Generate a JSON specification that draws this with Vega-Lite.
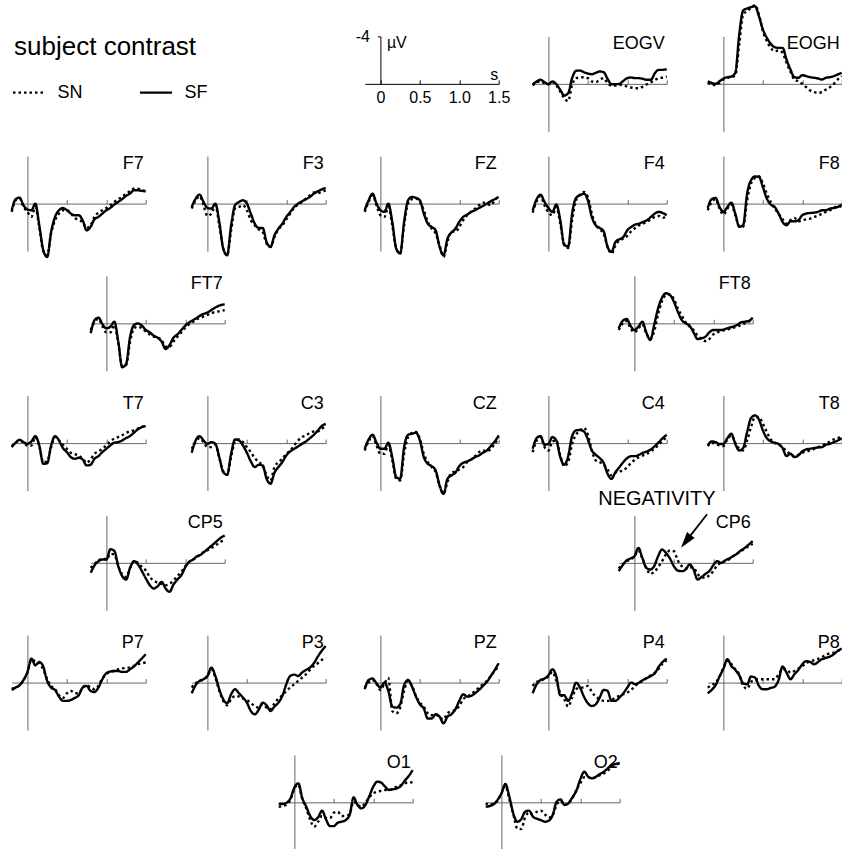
{
"$schema":"https://vega.github.io/schema/vega-lite/v6.json",
"padding":{"left":9.7,"top":3.35,"right":0,"bottom":0},
"background":"white",
"data":{"values":[
{"t":-0.2,"s":"SF","EOGV":0.03,"EOGH":-0.22,"F7":0.56,"F3":0.28,"FZ":0.56,"F4":0.56,"F8":0.37,"FT7":0.84,"FT8":0.42,"T7":0.34,"C3":0.81,"CZ":0.48,"C4":0.48,"T8":0.2,"CP5":0.84,"CP6":0.7,"P7":0.62,"P3":0.9,"PZ":0.56,"P4":0.9,"P8":0.9,"O1":0.14,"O2":0.37},
{"t":-0.15,"s":"SF","EOGV":-0.2,"EOGH":-0.08,"F7":-0.37,"F3":-0.42,"FZ":-0.28,"F4":-0.37,"F8":-0.37,"FT7":-0.28,"FT8":-0.2,"T7":-0.03,"C3":-0.22,"CZ":-0.31,"C4":-0.42,"T8":-0.14,"CP5":0.2,"CP6":0.2,"P7":0.42,"P3":0.22,"PZ":-0.22,"P4":0.14,"P8":0.62,"O1":0.14,"O2":0.31},
{"t":-0.1,"s":"SF","EOGV":-0.34,"EOGH":0,"F7":-0.5,"F3":-0.76,"FZ":-0.84,"F4":-0.76,"F8":-0.48,"FT7":-0.48,"FT8":-0.37,"T7":-0.28,"C3":-0.59,"CZ":-0.7,"C4":-0.59,"T8":-0.08,"CP5":-0.14,"CP6":-0.2,"P7":0.22,"P3":-0.14,"PZ":-0.34,"P4":-0.22,"P8":0.22,"O1":0.03,"O2":0.17},
{"t":-0.05,"s":"SF","EOGV":-0.14,"EOGH":-0.22,"F7":0.14,"F3":-0.14,"FZ":0,"F4":-0.14,"F8":0.28,"FT7":0.08,"FT8":0.2,"T7":-0.08,"C3":-0.22,"CZ":-0.03,"C4":0.14,"T8":0.08,"CP5":-0.28,"CP6":-0.37,"P7":-0.22,"P3":-0.28,"PZ":0.06,"P4":-0.34,"P8":-0.51,"O1":-0.34,"O2":-0.2},
{"t":0,"s":"SF","EOGV":0.03,"EOGH":-0.45,"F7":0.5,"F3":0.37,"FZ":0.56,"F4":0.37,"F8":0.7,"FT7":0.42,"FT8":0.56,"T7":0.06,"C3":0.06,"CZ":0.48,"C4":0.06,"T8":0.06,"CP5":-0.28,"CP6":-0.56,"P7":-0.9,"P3":-0.56,"PZ":0.42,"P4":-0.62,"P8":-1.18,"O1":-1.26,"O2":-0.76},
{"t":0.05,"s":"SF","EOGV":-0.2,"EOGH":-0.56,"F7":0.56,"F3":0.42,"FZ":0.7,"F4":0.7,"F8":0.28,"FT7":0.28,"FT8":0.28,"T7":-0.14,"C3":-0.08,"CZ":0.48,"C4":-0.51,"T8":-0.42,"CP5":-1.15,"CP6":-1.26,"P7":-2.02,"P3":-1.26,"PZ":0,"P4":-1.12,"P8":-1.97,"O1":-1.6,"O2":-1.54},
{"t":0.1,"s":"SF","EOGV":0.03,"EOGH":-0.62,"F7":0,"F3":0,"FZ":0,"F4":0.08,"F8":-0.08,"FT7":-0.14,"FT8":-0.14,"T7":-0.59,"C3":0.06,"CZ":-0.03,"C4":-0.22,"T8":-0.79,"CP5":-1.0,"CP6":-0.42,"P7":-1.46,"P3":-0.56,"PZ":0.7,"P4":-0.51,"P8":-1.4,"O1":-0.34,"O2":-0.48},
{"t":0.15,"s":"SF","EOGV":0.51,"EOGH":-0.93,"F7":1.83,"F3":1.54,"FZ":1.54,"F4":1.4,"F8":0.84,"FT7":1.54,"FT8":0.76,"T7":0.2,"C3":1.18,"CZ":1.18,"C4":1.18,"T8":0.06,"CP5":0.28,"CP6":0.42,"P7":-1.74,"P3":0.56,"PZ":2.02,"P4":1.07,"P8":-1.07,"O1":0.37,"O2":0.93},
{"t":0.2,"s":"SF","EOGV":0.98,"EOGH":-4.16,"F7":3.9,"F3":3.79,"FZ":3.79,"F4":3.5,"F8":1.95,"FT7":3.7,"FT8":1.4,"T7":1.75,"C3":2.44,"CZ":2.87,"C4":1.83,"T8":0.62,"CP5":1.12,"CP6":0.56,"P7":-1.35,"P3":1.4,"PZ":2.11,"P4":1.07,"P8":-0.62,"O1":1.15,"O2":1.63},
{"t":0.25,"s":"SF","EOGV":0.79,"EOGH":-6.18,"F7":4.5,"F3":4.35,"FZ":4.2,"F4":3.6,"F8":1.8,"FT7":3.4,"FT8":0.14,"T7":1.7,"C3":2.67,"CZ":3.01,"C4":1.1,"T8":0.42,"CP5":1.4,"CP6":0.28,"P7":-0.14,"P3":1.74,"PZ":1.83,"P4":1.54,"P8":0.06,"O1":1.49,"O2":1.43},
{"t":0.3,"s":"SF","EOGV":-0.48,"EOGH":-6.35,"F7":2.39,"F3":1.83,"FZ":1.54,"F4":0.84,"F8":-0.84,"FT7":1.12,"FT8":-1.26,"T7":0.2,"C3":0.9,"CZ":0.34,"C4":-0.59,"T8":-0.93,"CP5":0.42,"CP6":-0.56,"P7":0.42,"P3":0.98,"PZ":0.22,"P4":0.9,"P8":0.14,"O1":1.26,"O2":0.79},
{"t":0.35,"s":"SF","EOGV":-1.1,"EOGH":-6.46,"F7":1.12,"F3":0.14,"FZ":-0.28,"F4":-0.48,"F8":-1.97,"FT7":0.14,"FT8":-2.16,"T7":-0.59,"C3":-0.31,"CZ":-0.7,"C4":-1.07,"T8":-2.11,"CP5":-0.14,"CP6":-1.12,"P7":0.62,"P3":0.56,"PZ":-0.22,"P4":0,"P8":-0.51,"O1":0.7,"O2":0.7},
{"t":0.4,"s":"SF","EOGV":-1.12,"EOGH":-6.54,"F7":0.56,"F3":-0.14,"FZ":-0.56,"F4":-0.7,"F8":-2.28,"FT7":0,"FT8":-2.53,"T7":-0.22,"C3":-0.22,"CZ":-0.79,"C4":-1.1,"T8":-2.33,"CP5":0.14,"CP6":-0.84,"P7":1.18,"P3":0.9,"PZ":0.34,"P4":0.42,"P8":-0.42,"O1":1.43,"O2":1.21},
{"t":0.45,"s":"SF","EOGV":-0.98,"EOGH":-5.7,"F7":0.37,"F3":-0.28,"FZ":-0.48,"F4":-0.84,"F8":-2.25,"FT7":0.2,"FT8":-2.39,"T7":0.42,"C3":0.2,"CZ":-0.87,"C4":-0.98,"T8":-1.99,"CP5":0.7,"CP6":-0.37,"P7":1.54,"P3":1.26,"PZ":1.18,"P4":1.18,"P8":0.28,"O1":2.0,"O2":1.38},
{"t":0.5,"s":"SF","EOGV":-0.87,"EOGH":-4.58,"F7":0.56,"F3":0,"FZ":-0.28,"F4":-0.28,"F8":-1.4,"FT7":0.56,"FT8":-1.83,"T7":0.76,"C3":0.81,"CZ":-0.22,"C4":-0.31,"T8":-1.07,"CP5":1.32,"CP6":0.28,"P7":1.54,"P3":1.69,"PZ":1.83,"P4":1.74,"P8":0.56,"O1":2.0,"O2":1.49},
{"t":0.55,"s":"SF","EOGV":-0.81,"EOGH":-3.88,"F7":0.84,"F3":0.84,"FZ":0.84,"F4":1.12,"F8":-0.42,"FT7":0.76,"FT8":-0.98,"T7":1.18,"C3":1.54,"CZ":1.18,"C4":0.62,"T8":-0.42,"CP5":1.88,"CP6":0.65,"P7":1.46,"P3":2.39,"PZ":2.19,"P4":1.97,"P8":0.56,"O1":1.71,"O2":1.63},
{"t":0.6,"s":"SF","EOGV":-0.93,"EOGH":-3.37,"F7":0.98,"F3":1.69,"FZ":1.69,"F4":1.83,"F8":0.08,"FT7":1.04,"FT8":-0.28,"T7":1.32,"C3":2.02,"CZ":1.74,"C4":0.98,"T8":-0.14,"CP5":2.16,"CP6":0.7,"P7":1.29,"P3":2.67,"PZ":3.03,"P4":1.83,"P8":0.45,"O1":1.63,"O2":1.54},
{"t":0.65,"s":"SF","EOGV":-1.04,"EOGH":-3.09,"F7":0.98,"F3":2.05,"FZ":1.97,"F4":2.05,"F8":0.28,"FT7":1.21,"FT8":0,"T7":1.24,"C3":1.83,"CZ":1.94,"C4":1.26,"T8":-0.03,"CP5":1.97,"CP6":0.56,"P7":1.07,"P3":2.3,"PZ":3.03,"P4":1.26,"P8":0.34,"O1":1.49,"O2":1.07},
{"t":0.7,"s":"SF","EOGV":-0.98,"EOGH":-3.03,"F7":1.4,"F3":2.05,"FZ":2.25,"F4":2.33,"F8":0.84,"FT7":1.54,"FT8":0.2,"T7":1.38,"C3":1.88,"CZ":2.3,"C4":1.66,"T8":0.08,"CP5":1.6,"CP6":0.14,"P7":0.42,"P3":1.69,"PZ":2.67,"P4":0.62,"P8":-0.22,"O1":1.07,"O2":-0.06},
{"t":0.75,"s":"SF","EOGV":-0.42,"EOGH":-3.03,"F7":2.25,"F3":3.23,"FZ":3.65,"F4":3.65,"F8":1.54,"FT7":2.16,"FT8":0.76,"T7":1.88,"C3":3.01,"CZ":3.57,"C4":2.59,"T8":0.42,"CP5":2.16,"CP6":0.56,"P7":0.28,"P3":1.91,"PZ":2.87,"P4":0.7,"P8":-1.35,"O1":-0.42,"O2":-0.25},
{"t":0.8,"s":"SF","EOGV":0.03,"EOGH":-2.05,"F7":1.97,"F3":3.65,"FZ":4.35,"F4":4.07,"F8":1.83,"FT7":1.83,"FT8":1.32,"T7":1.83,"C3":3.43,"CZ":4.27,"C4":3.01,"T8":1.1,"CP5":2.44,"CP6":1.4,"P7":0.7,"P3":2.39,"PZ":3.43,"P4":1.54,"P8":-0.84,"O1":0.22,"O2":0.22},
{"t":0.85,"s":"SF","EOGV":0.03,"EOGH":-1.21,"F7":1.32,"F3":2.67,"FZ":2.95,"F4":3.23,"F8":1.49,"FT7":1.21,"FT8":1.26,"T7":1.32,"C3":2.5,"CZ":3.01,"C4":2.44,"T8":0.9,"CP5":1.83,"CP6":1.2,"P7":0.79,"P3":2.02,"PZ":2.87,"P4":1.54,"P8":-0.28,"O1":0.51,"O2":0.08},
{"t":0.9,"s":"SF","EOGV":0,"EOGH":-0.56,"F7":1.12,"F3":2.11,"FZ":2.44,"F4":3.0,"F8":1.49,"FT7":0.93,"FT8":1.12,"T7":1.1,"C3":2.02,"CZ":2.72,"C4":2.02,"T8":1.18,"CP5":1.4,"CP6":0.93,"P7":0.42,"P3":1.69,"PZ":2.67,"P4":1.26,"P8":-0.7,"O1":0.22,"O2":-0.42},
{"t":0.95,"s":"SF","EOGV":-0.25,"EOGH":-0.51,"F7":0.84,"F3":1.69,"FZ":2.11,"F4":2.81,"F8":1.4,"FT7":0.56,"FT8":0.76,"T7":0.76,"C3":1.6,"CZ":2.5,"C4":1.6,"T8":1.04,"CP5":1.04,"CP6":0.7,"P7":-0.28,"P3":1.12,"PZ":2.25,"P4":0.9,"P8":-1.07,"O1":-0.53,"O2":-0.98},
{"t":1.0,"s":"SF","EOGV":-0.48,"EOGH":-0.73,"F7":0.56,"F3":1.12,"FZ":1.54,"F4":2.25,"F8":0.98,"FT7":0.2,"FT8":0.56,"T7":0.48,"C3":1.04,"CZ":1.94,"C4":1.26,"T8":0.7,"CP5":0.37,"CP6":0.2,"P7":-0.79,"P3":0.14,"PZ":1.54,"P4":0.42,"P8":-1.54,"O1":-1.32,"O2":-1.94},
{"t":1.05,"s":"SF","EOGV":-0.53,"EOGH":-0.65,"F7":0.37,"F3":0.7,"FZ":1.12,"F4":1.97,"F8":0.84,"FT7":-0.08,"FT8":0.56,"T7":0.2,"C3":0.7,"CZ":1.66,"C4":1.1,"T8":0.53,"CP5":-0.08,"CP6":-0.14,"P7":-0.93,"P3":-0.56,"PZ":0.98,"P4":0,"P8":-1.8,"O1":-1.74,"O2":-2.58},
{"t":1.1,"s":"SF","EOGV":-0.48,"EOGH":-0.56,"F7":0.08,"F3":0.28,"FZ":0.93,"F4":1.77,"F8":0.79,"FT7":-0.28,"FT8":0.56,"T7":-0.03,"C3":0.48,"CZ":1.54,"C4":1.1,"T8":0.48,"CP5":-0.28,"CP6":0,"P7":-0.98,"P3":-0.67,"PZ":1.18,"P4":0.14,"P8":-1.74,"O1":-1.66,"O2":-2.16},
{"t":1.15,"s":"SF","EOGV":-0.48,"EOGH":-0.51,"F7":-0.14,"F3":0,"FZ":0.7,"F4":1.69,"F8":0.76,"FT7":-0.48,"FT8":0.48,"T7":-0.08,"C3":0.28,"CZ":1.38,"C4":0.98,"T8":0.42,"CP5":-0.56,"CP6":-0.2,"P7":-0.98,"P3":-0.56,"PZ":1.12,"P4":0,"P8":-1.54,"O1":-1.32,"O2":-2.02},
{"t":1.2,"s":"SF","EOGV":-0.42,"EOGH":-0.45,"F7":-0.37,"F3":-0.2,"FZ":0.56,"F4":1.54,"F8":0.7,"FT7":-0.7,"FT8":0.37,"T7":-0.22,"C3":0.06,"CZ":1.18,"C4":0.81,"T8":0.37,"CP5":-0.7,"CP6":-0.37,"P7":-0.9,"P3":-0.84,"PZ":0.9,"P4":-0.22,"P8":-1.74,"O1":-1.04,"O2":-2.16},
{"t":1.25,"s":"SF","EOGV":-0.34,"EOGH":-0.37,"F7":-0.65,"F3":-0.37,"FZ":0.37,"F4":1.4,"F8":0.56,"FT7":-0.84,"FT8":0.28,"T7":-0.42,"C3":-0.14,"CZ":1.04,"C4":0.7,"T8":0.34,"CP5":-0.98,"CP6":-0.56,"P7":-0.9,"P3":-1.07,"PZ":0.62,"P4":-0.39,"P8":-1.97,"O1":-1.1,"O2":-2.39},
{"t":1.3,"s":"SF","EOGV":-0.34,"EOGH":-0.51,"F7":-0.84,"F3":-0.56,"FZ":0.2,"F4":1.12,"F8":0.56,"FT7":-0.98,"FT8":0.14,"T7":-0.59,"C3":-0.42,"CZ":0.81,"C4":0.53,"T8":0.14,"CP5":-1.26,"CP6":-0.76,"P7":-1.12,"P3":-1.26,"PZ":0.28,"P4":-0.56,"P8":-2.08,"O1":-1.18,"O2":-2.58},
{"t":1.35,"s":"SF","EOGV":-0.9,"EOGH":-0.56,"F7":-1.12,"F3":-0.84,"FZ":0,"F4":0.84,"F8":0.42,"FT7":-1.21,"FT8":-0.08,"T7":-0.87,"C3":-0.7,"CZ":0.62,"C4":0.25,"T8":0.06,"CP5":-1.54,"CP6":-1.04,"P7":-1.35,"P3":-1.63,"PZ":-0.06,"P4":-0.79,"P8":-2.19,"O1":-1.38,"O2":-2.87},
{"t":1.4,"s":"SF","EOGV":-1.18,"EOGH":-0.65,"F7":-1.12,"F3":-1.04,"FZ":-0.2,"F4":0.7,"F8":0.37,"FT7":-1.4,"FT8":-0.14,"T7":-1.15,"C3":-1.07,"CZ":0.25,"C4":-0.08,"T8":-0.08,"CP5":-1.83,"CP6":-1.26,"P7":-1.69,"P3":-2.19,"PZ":-0.56,"P4":-1.35,"P8":-2.39,"O1":-1.83,"O2":-3.15},
{"t":1.45,"s":"SF","EOGV":-1.18,"EOGH":-0.79,"F7":-1.07,"F3":-1.2,"FZ":-0.37,"F4":0.79,"F8":0.28,"FT7":-1.54,"FT8":-0.2,"T7":-1.35,"C3":-1.43,"CZ":-0.14,"C4":-0.42,"T8":-0.22,"CP5":-2.11,"CP6":-1.54,"P7":-2.02,"P3":-2.67,"PZ":-1.07,"P4":-1.74,"P8":-2.67,"O1":-2.22,"O2":-3.23},
{"t":1.5,"s":"SF","EOGV":-1.24,"EOGH":-0.93,"F7":-1.04,"F3":-1.32,"FZ":-0.56,"F4":0.98,"F8":0.08,"FT7":-1.6,"FT8":-0.48,"T7":-1.43,"C3":-1.63,"CZ":-0.65,"C4":-0.7,"T8":-0.42,"CP5":-2.3,"CP6":-1.83,"P7":-2.39,"P3":-3.09,"PZ":-1.63,"P4":-2.02,"P8":-2.87,"O1":-2.72,"O2":-3.34},
{"t":-0.2,"s":"SN","EOGV":0.14,"EOGH":-0.08,"F7":0.7,"F3":0.42,"FZ":0.7,"F4":0.76,"F8":0.56,"FT7":0.56,"FT8":0.56,"T7":0.25,"C3":0.48,"CZ":0.62,"C4":0.76,"T8":0.25,"CP5":0.42,"CP6":0.48,"P7":0.51,"P3":0.42,"PZ":0.42,"P4":0.28,"P8":0.42,"O1":0.37,"O2":0.08},
{"t":-0.15,"s":"SN","EOGV":-0.14,"EOGH":0.06,"F7":-0.28,"F3":-0.28,"FZ":-0.14,"F4":-0.2,"F8":-0.14,"FT7":-0.14,"FT8":0,"T7":-0.03,"C3":-0.08,"CZ":-0.14,"C4":-0.22,"T8":-0.03,"CP5":0.08,"CP6":0.14,"P7":0.42,"P3":0.06,"PZ":0,"P4":-0.06,"P8":0.22,"O1":0.31,"O2":0.22},
{"t":-0.1,"s":"SN","EOGV":-0.2,"EOGH":0.11,"F7":-0.42,"F3":-0.62,"FZ":-0.7,"F4":-0.62,"F8":-0.37,"FT7":-0.37,"FT8":-0.2,"T7":-0.22,"C3":-0.42,"CZ":-0.59,"C4":-0.51,"T8":0.06,"CP5":-0.2,"CP6":-0.14,"P7":0.22,"P3":-0.14,"PZ":-0.22,"P4":-0.14,"P8":0,"O1":0.2,"O2":0.08},
{"t":-0.05,"s":"SN","EOGV":-0.06,"EOGH":-0.08,"F7":0.28,"F3":0.14,"FZ":0.14,"F4":0.14,"F8":0.42,"FT7":0.28,"FT8":0.42,"T7":-0.03,"C3":-0.08,"CZ":0.2,"C4":0.34,"T8":0.2,"CP5":-0.37,"CP6":-0.28,"P7":-0.22,"P3":-0.28,"PZ":0.14,"P4":-0.34,"P8":-0.51,"O1":-0.25,"O2":-0.14},
{"t":0,"s":"SN","EOGV":0.03,"EOGH":-0.37,"F7":0.7,"F3":1.04,"FZ":0.98,"F4":0.76,"F8":0.93,"FT7":0.76,"FT8":0.76,"T7":0.2,"C3":0.34,"CZ":0.9,"C4":0.62,"T8":0.25,"CP5":-0.28,"CP6":-0.56,"P7":-0.84,"P3":-0.56,"PZ":0.62,"P4":-0.51,"P8":-1.26,"O1":-1.18,"O2":-0.76},
{"t":0.05,"s":"SN","EOGV":-0.14,"EOGH":-0.51,"F7":1.12,"F3":0.84,"FZ":1.12,"F4":0.98,"F8":0.42,"FT7":0.76,"FT8":0.42,"T7":0.2,"C3":0.34,"CZ":0.9,"C4":-0.14,"T8":-0.31,"CP5":-0.76,"CP6":-1.04,"P7":-1.91,"P3":-1.12,"PZ":0.1,"P4":-0.9,"P8":-1.83,"O1":-1.46,"O2":-1.38},
{"t":0.1,"s":"SN","EOGV":0.14,"EOGH":-0.56,"F7":0.28,"F3":0.14,"FZ":0.28,"F4":0.28,"F8":0.08,"FT7":0.14,"FT8":0.08,"T7":-0.51,"C3":0.14,"CZ":0.14,"C4":-0.22,"T8":-0.65,"CP5":-0.7,"CP6":-0.37,"P7":-1.8,"P3":-0.42,"PZ":-0.4,"P4":-0.14,"P8":-1.57,"O1":-0.25,"O2":-0.25},
{"t":0.15,"s":"SN","EOGV":0.65,"EOGH":-0.73,"F7":1.97,"F3":1.83,"FZ":1.83,"F4":1.69,"F8":0.98,"FT7":1.69,"FT8":0.84,"T7":0.25,"C3":1.26,"CZ":1.46,"C4":1.04,"T8":-0.03,"CP5":0.28,"CP6":0.42,"P7":-1.63,"P3":0.7,"PZ":2.39,"P4":0.9,"P8":-1.12,"O1":0.51,"O2":0.98},
{"t":0.2,"s":"SN","EOGV":1.21,"EOGH":-3.31,"F7":4.0,"F3":3.79,"FZ":3.79,"F4":3.4,"F8":1.9,"FT7":3.6,"FT8":1.32,"T7":1.6,"C3":2.39,"CZ":3.01,"C4":1.94,"T8":0.48,"CP5":0.98,"CP6":0.93,"P7":-1.12,"P3":1.54,"PZ":2.58,"P4":1.4,"P8":-0.7,"O1":1.49,"O2":2.2},
{"t":0.25,"s":"SN","EOGV":1.45,"EOGH":-5.84,"F7":4.35,"F3":4.35,"FZ":4.2,"F4":3.74,"F8":1.95,"FT7":3.51,"FT8":0.7,"T7":1.55,"C3":2.67,"CZ":3.15,"C4":1.6,"T8":0.62,"CP5":1.2,"CP6":0.76,"P7":-0.28,"P3":1.91,"PZ":2.11,"P4":2.02,"P8":0.28,"O1":2.05,"O2":2.25},
{"t":0.3,"s":"SN","EOGV":0.08,"EOGH":-6.12,"F7":2.5,"F3":2.25,"FZ":1.83,"F4":1.4,"F8":-0.28,"FT7":1.54,"FT8":-0.76,"T7":0.34,"C3":1.18,"CZ":0.9,"C4":0.06,"T8":-0.22,"CP5":0.42,"CP6":0.37,"P7":0.28,"P3":1.4,"PZ":0.7,"P4":1.26,"P8":0.51,"O1":1.63,"O2":1.26},
{"t":0.35,"s":"SN","EOGV":-0.48,"EOGH":-6.4,"F7":1.4,"F3":0.42,"FZ":0,"F4":-0.28,"F8":-1.69,"FT7":0.42,"FT8":-1.88,"T7":-0.51,"C3":-0.14,"CZ":-0.51,"C4":-0.7,"T8":-1.35,"CP5":-0.14,"CP6":-0.14,"P7":0.56,"P3":1.12,"PZ":-0.14,"P4":0.56,"P8":-0.06,"O1":1.15,"O2":0.87},
{"t":0.4,"s":"SN","EOGV":-0.53,"EOGH":-6.63,"F7":0.84,"F3":0.28,"FZ":-0.37,"F4":-0.76,"F8":-2.16,"FT7":0.28,"FT8":-2.39,"T7":-0.22,"C3":-0.31,"CZ":-0.87,"C4":-1.07,"T8":-2.19,"CP5":0,"CP6":-0.7,"P7":1.07,"P3":1.18,"PZ":0.28,"P4":0.42,"P8":-0.22,"O1":1.32,"O2":1.01},
{"t":0.45,"s":"SN","EOGV":-0.56,"EOGH":-5.84,"F7":0.56,"F3":0.14,"FZ":-0.42,"F4":-0.98,"F8":-2.3,"FT7":0.42,"FT8":-2.44,"T7":0.14,"C3":-0.08,"CZ":-0.93,"C4":-1.29,"T8":-2.19,"CP5":0.37,"CP6":-1.04,"P7":1.29,"P3":1.35,"PZ":1.12,"P4":0.42,"P8":-0.28,"O1":1.32,"O2":0.79},
{"t":0.5,"s":"SN","EOGV":-0.48,"EOGH":-4.44,"F7":0.56,"F3":0.56,"FZ":-0.14,"F4":-0.56,"F8":-1.69,"FT7":0.7,"FT8":-2.05,"T7":0.48,"C3":0.34,"CZ":-0.37,"C4":-0.7,"T8":-1.63,"CP5":0.65,"CP6":-0.98,"P7":0.9,"P3":1.46,"PZ":1.69,"P4":0.28,"P8":-0.28,"O1":0.87,"O2":0.7},
{"t":0.55,"s":"SN","EOGV":-0.2,"EOGH":-3.6,"F7":0.84,"F3":1.4,"FZ":0.56,"F4":0.84,"F8":-0.84,"FT7":0.93,"FT8":-1.26,"T7":0.81,"C3":0.76,"CZ":0.9,"C4":0.62,"T8":-0.93,"CP5":1.2,"CP6":-0.2,"P7":0.7,"P3":1.74,"PZ":2.02,"P4":0.79,"P8":-0.28,"O1":0.79,"O2":1.01},
{"t":0.6,"s":"SN","EOGV":-0.14,"EOGH":-3.03,"F7":1.2,"F3":1.83,"FZ":1.54,"F4":1.77,"F8":-0.14,"FT7":1.12,"FT8":-0.65,"T7":0.93,"C3":1.26,"CZ":1.6,"C4":1.46,"T8":-0.31,"CP5":1.49,"CP6":0.28,"P7":0.9,"P3":1.97,"PZ":2.58,"P4":1.18,"P8":-0.28,"O1":1.15,"O2":1.29},
{"t":0.65,"s":"SN","EOGV":-0.34,"EOGH":-2.75,"F7":1.4,"F3":2.16,"FZ":2.11,"F4":2.16,"F8":0.42,"FT7":1.21,"FT8":-0.08,"T7":1.04,"C3":1.6,"CZ":2.02,"C4":1.6,"T8":-0.03,"CP5":1.69,"CP6":0.48,"P7":0.9,"P3":2.11,"PZ":2.75,"P4":1.4,"P8":-0.28,"O1":1.15,"O2":1.07},
{"t":0.7,"s":"SN","EOGV":-0.48,"EOGH":-2.81,"F7":1.54,"F3":2.39,"FZ":2.53,"F4":2.53,"F8":0.84,"FT7":1.4,"FT8":0.28,"T7":1.32,"C3":1.88,"CZ":2.44,"C4":1.83,"T8":0.14,"CP5":1.77,"CP6":0.37,"P7":0.42,"P3":1.83,"PZ":2.67,"P4":1.54,"P8":-0.7,"O1":0.98,"O2":0.22},
{"t":0.75,"s":"SN","EOGV":-0.06,"EOGH":-2.61,"F7":2.05,"F3":3.37,"FZ":3.51,"F4":3.65,"F8":1.32,"FT7":1.97,"FT8":0.56,"T7":1.66,"C3":2.72,"CZ":3.57,"C4":2.22,"T8":0.34,"CP5":1.88,"CP6":0.42,"P7":0.22,"P3":2.11,"PZ":2.95,"P4":1.54,"P8":-1.12,"O1":-0.06,"O2":-0.14},
{"t":0.8,"s":"SN","EOGV":0.14,"EOGH":-1.77,"F7":1.83,"F3":3.65,"FZ":4.49,"F4":4.21,"F8":1.69,"FT7":1.97,"FT8":1.04,"T7":1.38,"C3":3.15,"CZ":4.27,"C4":2.72,"T8":0.7,"CP5":1.77,"CP6":0.93,"P7":0.42,"P3":2.25,"PZ":3.09,"P4":1.46,"P8":-1.12,"O1":0.22,"O2":0.22},
{"t":0.85,"s":"SN","EOGV":0.14,"EOGH":-1.01,"F7":1.12,"F3":2.81,"FZ":3.23,"F4":3.51,"F8":1.4,"FT7":1.54,"FT8":1.32,"T7":0.9,"C3":2.02,"CZ":3.29,"C4":2.5,"T8":0.9,"CP5":1.49,"CP6":1.2,"P7":0.56,"P3":1.74,"PZ":2.58,"P4":1.26,"P8":-0.84,"O1":0.37,"O2":0.03},
{"t":0.9,"s":"SN","EOGV":0.08,"EOGH":-0.37,"F7":0.76,"F3":2.16,"FZ":2.33,"F4":3.09,"F8":1.2,"FT7":1.12,"FT8":1.49,"T7":0.7,"C3":1.6,"CZ":2.5,"C4":2.39,"T8":1.1,"CP5":1.12,"CP6":1.26,"P7":0.28,"P3":1.35,"PZ":2.42,"P4":1.12,"P8":-0.98,"O1":0.03,"O2":-0.34},
{"t":0.95,"s":"SN","EOGV":0.14,"EOGH":-0.22,"F7":0.56,"F3":1.83,"FZ":2.39,"F4":2.95,"F8":1.49,"FT7":0.76,"FT8":1.32,"T7":0.48,"C3":1.32,"CZ":2.39,"C4":2.3,"T8":0.98,"CP5":0.76,"CP6":1.04,"P7":-0.34,"P3":1.07,"PZ":2.3,"P4":0.98,"P8":-1.18,"O1":-0.42,"O2":-1.04},
{"t":1.0,"s":"SN","EOGV":0.22,"EOGH":0,"F7":0.37,"F3":1.32,"FZ":1.97,"F4":2.72,"F8":1.4,"FT7":0.37,"FT8":0.93,"T7":0.2,"C3":0.9,"CZ":2.22,"C4":2.02,"T8":0.81,"CP5":0.28,"CP6":0.7,"P7":-0.7,"P3":0.7,"PZ":1.97,"P4":0.84,"P8":-1.4,"O1":-0.76,"O2":-1.6},
{"t":1.05,"s":"SN","EOGV":0.31,"EOGH":0.28,"F7":0.14,"F3":0.84,"FZ":1.4,"F4":2.33,"F8":1.32,"FT7":0.08,"FT8":0.76,"T7":-0.14,"C3":0.62,"CZ":2.02,"C4":1.66,"T8":0.7,"CP5":-0.08,"CP6":0.2,"P7":-0.9,"P3":0.42,"PZ":1.4,"P4":0.62,"P8":-1.63,"O1":-0.9,"O2":-2.11},
{"t":1.1,"s":"SN","EOGV":0.37,"EOGH":0.56,"F7":-0.14,"F3":0.37,"FZ":0.98,"F4":2.05,"F8":1.26,"FT7":-0.14,"FT8":0.65,"T7":-0.37,"C3":0.2,"CZ":1.6,"C4":1.38,"T8":0.62,"CP5":-0.28,"CP6":0,"P7":-0.98,"P3":0.14,"PZ":1.18,"P4":0.28,"P8":-1.8,"O1":-0.96,"O2":-2.11},
{"t":1.15,"s":"SN","EOGV":0.37,"EOGH":0.7,"F7":-0.37,"F3":0.08,"FZ":0.7,"F4":1.83,"F8":1.12,"FT7":-0.37,"FT8":0.56,"T7":-0.51,"C3":-0.22,"CZ":1.38,"C4":1.18,"T8":0.48,"CP5":-0.48,"CP6":-0.14,"P7":-1.12,"P3":-0.14,"PZ":0.98,"P4":0,"P8":-1.88,"O1":-1.04,"O2":-2.02},
{"t":1.2,"s":"SN","EOGV":0.22,"EOGH":0.76,"F7":-0.56,"F3":-0.14,"FZ":0.42,"F4":1.69,"F8":1.04,"FT7":-0.48,"FT8":0.48,"T7":-0.65,"C3":-0.51,"CZ":1.1,"C4":1.04,"T8":0.34,"CP5":-0.76,"CP6":-0.28,"P7":-1.18,"P3":-0.42,"PZ":0.7,"P4":-0.14,"P8":-2.0,"O1":-1.04,"O2":-2.16},
{"t":1.25,"s":"SN","EOGV":0.03,"EOGH":0.7,"F7":-0.84,"F3":-0.42,"FZ":0.14,"F4":1.54,"F8":0.84,"FT7":-0.65,"FT8":0.37,"T7":-0.87,"C3":-0.65,"CZ":0.76,"C4":0.9,"T8":0.2,"CP5":-0.98,"CP6":-0.56,"P7":-1.26,"P3":-0.7,"PZ":0.42,"P4":-0.42,"P8":-2.14,"O1":-1.18,"O2":-2.3},
{"t":1.3,"s":"SN","EOGV":-0.14,"EOGH":0.48,"F7":-1.04,"F3":-0.7,"FZ":-0.08,"F4":1.32,"F8":0.7,"FT7":-0.76,"FT8":0.28,"T7":-0.98,"C3":-0.87,"CZ":0.62,"C4":0.7,"T8":0.06,"CP5":-1.12,"CP6":-0.76,"P7":-1.26,"P3":-1.07,"PZ":0.14,"P4":-0.62,"P8":-2.33,"O1":-1.32,"O2":-2.44},
{"t":1.35,"s":"SN","EOGV":-0.34,"EOGH":0.28,"F7":-1.26,"F3":-0.93,"FZ":0,"F4":1.12,"F8":0.56,"FT7":-0.9,"FT8":0.14,"T7":-1.07,"C3":-0.98,"CZ":0.7,"C4":0.42,"T8":-0.14,"CP5":-1.32,"CP6":-0.98,"P7":-1.4,"P3":-1.4,"PZ":-0.14,"P4":-0.84,"P8":-2.47,"O1":-1.46,"O2":-2.67},
{"t":1.4,"s":"SN","EOGV":-0.48,"EOGH":0,"F7":-1.26,"F3":-0.9,"FZ":0.14,"F4":1.04,"F8":0.37,"FT7":-0.98,"FT8":0,"T7":-1.21,"C3":-0.98,"CZ":0.48,"C4":0.14,"T8":-0.31,"CP5":-1.54,"CP6":-1.2,"P7":-1.54,"P3":-1.63,"PZ":-0.56,"P4":-1.18,"P8":-2.53,"O1":-1.6,"O2":-3.01},
{"t":1.45,"s":"SN","EOGV":-0.53,"EOGH":-0.37,"F7":-1.12,"F3":-0.98,"FZ":-0.28,"F4":1.2,"F8":0.2,"FT7":-1.04,"FT8":-0.14,"T7":-1.35,"C3":-1.21,"CZ":0.06,"C4":-0.22,"T8":-0.42,"CP5":-1.77,"CP6":-1.4,"P7":-1.63,"P3":-1.91,"PZ":-0.98,"P4":-1.63,"P8":-2.67,"O1":-1.71,"O2":-3.15},
{"t":1.5,"s":"SN","EOGV":-0.62,"EOGH":-0.65,"F7":-1.07,"F3":-1.12,"FZ":-0.65,"F4":1.04,"F8":0.28,"FT7":-1.12,"FT8":-0.37,"T7":-1.43,"C3":-1.43,"CZ":-0.51,"C4":-0.51,"T8":-0.51,"CP5":-1.97,"CP6":-1.6,"P7":-1.69,"P3":-2.11,"PZ":-1.4,"P4":-1.83,"P8":-2.81,"O1":-1.66,"O2":-3.29}
]},
"columns":9,
"align":"each",
"bounds":"flush",
"spacing":{"row":24.75,"column":0},
"concat":[
{"title":{"text":"subject contrast","anchor":"start","fontSize":26,"offset":-23.5,"dx":2.4},"width":78.9,"height":95,"data":{"values":[]},"mark":"point","encoding":{}},
{"width":100.6,"height":95,"data":{"values":[]},"mark":"point","encoding":{}},
{"width":86.5,"height":95,"data":{"values":[]},"mark":"point","encoding":{}},
{"width":85.6,"height":95,"data":{"values":[]},"mark":"point","encoding":{}},
{"width":120.8,"height":47.5,"data":{"values":[{}]},"mark":{"type":"point","opacity":0},"encoding":{"x":{"datum":0,"type":"quantitative","scale":{"domain":[-0.2,1.5],"range":[0,134],"nice":false,"zero":false},"axis":{"title":"s","offset":0,"values":[0,0.5,1,1.5],"labels":true,"labelExpr":"datum.value == 0 ? '0' : format(datum.value, '.1f')","labelFontSize":16,"labelColor":"black","labelPadding":10,"labelFlush":false,"labelOverlap":false,"labelAngle":0,"domainColor":"black","tickColor":"black","tickSize":-4,"titleX":129,"titleY":-4,"titleAngle":0,"titleAlign":"center","titleBaseline":"alphabetic","titleFontSize":16,"titleFontWeight":"normal","titleColor":"black"}},"y":{"datum":0,"type":"quantitative","scale":{"domain":[-4,0],"reverse":true,"nice":false,"zero":false},"axis":{"title":"µV","offset":-15.7,"values":[-4],"labels":true,"labelExpr":"'-4'","labelFontSize":16,"labelColor":"black","labelPadding":8,"labelFlush":false,"ticks":true,"tickSize":3,"tickColor":"black","domainColor":"black","titleX":6,"titleY":11.5,"titleAngle":0,"titleAlign":"left","titleBaseline":"alphabetic","titleFontSize":16,"titleFontWeight":"normal","titleColor":"black"}}}},
{"width":46.6,"height":95,"data":{"values":[]},"mark":"point","encoding":{}},
{"title":{"text":"EOGV","dx":46},"width":86,"height":95,"mark":"line","encoding":{"x":{"field":"t","type":"quantitative","title":null,"scale":{"domain":[-0.2,1.5],"range":[0,134],"nice":false,"zero":false},"axis":{"values":[0.5,1,1.5]}},"y":{"field":"EOGV","type":"quantitative","title":null,"scale":{"domain":[-4,4],"reverse":true,"nice":false,"zero":false}},"strokeDash":{"field":"s","type":"nominal","title":null,"scale":{"domain":["SN","SF"],"range":[[2.5,3],[1,0]]}}}},
{"width":89,"height":95,"data":{"values":[]},"mark":"point","encoding":{}},
{"title":{"text":"EOGH","offset":-48.9},"width":134,"height":95,"mark":"line","encoding":{"x":{"field":"t","type":"quantitative","title":null,"scale":{"domain":[-0.2,1.5],"range":[0,134],"nice":false,"zero":false},"axis":{"values":[0.5,1,1.5]}},"y":{"field":"EOGH","type":"quantitative","title":null,"scale":{"domain":[-4,4],"reverse":true,"nice":false,"zero":false}},"strokeDash":{"field":"s","type":"nominal","title":null,"scale":{"domain":["SN","SF"],"range":[[2.5,3],[1,0]]}}}},

{"title":{"text":"F7","dx":53.1},"width":78.9,"height":95,"mark":"line","encoding":{"x":{"field":"t","type":"quantitative","title":null,"scale":{"domain":[-0.2,1.5],"range":[0,134],"nice":false,"zero":false},"axis":{"values":[0.5,1,1.5]}},"y":{"field":"F7","type":"quantitative","title":null,"scale":{"domain":[-4,4],"reverse":true,"nice":false,"zero":false}},"strokeDash":{"field":"s","type":"nominal","title":null,"scale":{"domain":["SN","SF"],"range":[[2.5,3],[1,0]]}}}},
{"width":100.6,"height":95,"data":{"values":[]},"mark":"point","encoding":{}},
{"title":{"text":"F3","dx":45.5},"width":86.5,"height":95,"mark":"line","encoding":{"x":{"field":"t","type":"quantitative","title":null,"scale":{"domain":[-0.2,1.5],"range":[0,134],"nice":false,"zero":false},"axis":{"values":[0.5,1,1.5]}},"y":{"field":"F3","type":"quantitative","title":null,"scale":{"domain":[-4,4],"reverse":true,"nice":false,"zero":false}},"strokeDash":{"field":"s","type":"nominal","title":null,"scale":{"domain":["SN","SF"],"range":[[2.5,3],[1,0]]}}}},
{"width":85.6,"height":95,"data":{"values":[]},"mark":"point","encoding":{}},
{"title":{"text":"FZ","dx":11.2},"width":120.8,"height":95,"mark":"line","encoding":{"x":{"field":"t","type":"quantitative","title":null,"scale":{"domain":[-0.2,1.5],"range":[0,134],"nice":false,"zero":false},"axis":{"values":[0.5,1,1.5]}},"y":{"field":"FZ","type":"quantitative","title":null,"scale":{"domain":[-4,4],"reverse":true,"nice":false,"zero":false}},"strokeDash":{"field":"s","type":"nominal","title":null,"scale":{"domain":["SN","SF"],"range":[[2.5,3],[1,0]]}}}},
{"width":46.6,"height":95,"data":{"values":[]},"mark":"point","encoding":{}},
{"title":{"text":"F4","dx":46},"width":86,"height":95,"mark":"line","encoding":{"x":{"field":"t","type":"quantitative","title":null,"scale":{"domain":[-0.2,1.5],"range":[0,134],"nice":false,"zero":false},"axis":{"values":[0.5,1,1.5]}},"y":{"field":"F4","type":"quantitative","title":null,"scale":{"domain":[-4,4],"reverse":true,"nice":false,"zero":false}},"strokeDash":{"field":"s","type":"nominal","title":null,"scale":{"domain":["SN","SF"],"range":[[2.5,3],[1,0]]}}}},
{"width":89,"height":95,"data":{"values":[]},"mark":"point","encoding":{}},
{"title":"F8","width":134,"height":95,"mark":"line","encoding":{"x":{"field":"t","type":"quantitative","title":null,"scale":{"domain":[-0.2,1.5],"range":[0,134],"nice":false,"zero":false},"axis":{"values":[0.5,1,1.5]}},"y":{"field":"F8","type":"quantitative","title":null,"scale":{"domain":[-4,4],"reverse":true,"nice":false,"zero":false}},"strokeDash":{"field":"s","type":"nominal","title":null,"scale":{"domain":["SN","SF"],"range":[[2.5,3],[1,0]]}}}},

{"width":78.9,"height":95,"data":{"values":[]},"mark":"point","encoding":{}},
{"title":{"text":"FT7","dx":31.4},"width":100.6,"height":95,"mark":"line","encoding":{"x":{"field":"t","type":"quantitative","title":null,"scale":{"domain":[-0.2,1.5],"range":[0,134],"nice":false,"zero":false},"axis":{"values":[0.5,1,1.5]}},"y":{"field":"FT7","type":"quantitative","title":null,"scale":{"domain":[-4,4],"reverse":true,"nice":false,"zero":false}},"strokeDash":{"field":"s","type":"nominal","title":null,"scale":{"domain":["SN","SF"],"range":[[2.5,3],[1,0]]}}}},
{"width":86.5,"height":95,"data":{"values":[]},"mark":"point","encoding":{}},
{"width":85.6,"height":95,"data":{"values":[]},"mark":"point","encoding":{}},
{"width":120.8,"height":95,"data":{"values":[]},"mark":"point","encoding":{}},
{"width":46.6,"height":95,"data":{"values":[]},"mark":"point","encoding":{}},
{"width":86,"height":95,"data":{"values":[]},"mark":"point","encoding":{}},
{"title":{"text":"FT8","dx":43},"width":89,"height":95,"mark":"line","encoding":{"x":{"field":"t","type":"quantitative","title":null,"scale":{"domain":[-0.2,1.5],"range":[0,134],"nice":false,"zero":false},"axis":{"values":[0.5,1,1.5]}},"y":{"field":"FT8","type":"quantitative","title":null,"scale":{"domain":[-4,4],"reverse":true,"nice":false,"zero":false}},"strokeDash":{"field":"s","type":"nominal","title":null,"scale":{"domain":["SN","SF"],"range":[[2.5,3],[1,0]]}}}},
{"width":134,"height":95,"data":{"values":[]},"mark":"point","encoding":{}},

{"title":{"text":"T7","dx":53.1},"width":78.9,"height":95,"mark":"line","encoding":{"x":{"field":"t","type":"quantitative","title":null,"scale":{"domain":[-0.2,1.5],"range":[0,134],"nice":false,"zero":false},"axis":{"values":[0.5,1,1.5]}},"y":{"field":"T7","type":"quantitative","title":null,"scale":{"domain":[-4,4],"reverse":true,"nice":false,"zero":false}},"strokeDash":{"field":"s","type":"nominal","title":null,"scale":{"domain":["SN","SF"],"range":[[2.5,3],[1,0]]}}}},
{"width":100.6,"height":95,"data":{"values":[]},"mark":"point","encoding":{}},
{"title":{"text":"C3","dx":45.5},"width":86.5,"height":95,"mark":"line","encoding":{"x":{"field":"t","type":"quantitative","title":null,"scale":{"domain":[-0.2,1.5],"range":[0,134],"nice":false,"zero":false},"axis":{"values":[0.5,1,1.5]}},"y":{"field":"C3","type":"quantitative","title":null,"scale":{"domain":[-4,4],"reverse":true,"nice":false,"zero":false}},"strokeDash":{"field":"s","type":"nominal","title":null,"scale":{"domain":["SN","SF"],"range":[[2.5,3],[1,0]]}}}},
{"width":85.6,"height":95,"data":{"values":[]},"mark":"point","encoding":{}},
{"title":{"text":"CZ","dx":11.2},"width":120.8,"height":95,"mark":"line","encoding":{"x":{"field":"t","type":"quantitative","title":null,"scale":{"domain":[-0.2,1.5],"range":[0,134],"nice":false,"zero":false},"axis":{"values":[0.5,1,1.5]}},"y":{"field":"CZ","type":"quantitative","title":null,"scale":{"domain":[-4,4],"reverse":true,"nice":false,"zero":false}},"strokeDash":{"field":"s","type":"nominal","title":null,"scale":{"domain":["SN","SF"],"range":[[2.5,3],[1,0]]}}}},
{"width":46.6,"height":95,"data":{"values":[]},"mark":"point","encoding":{}},
{"title":{"text":"C4","dx":46},"width":86,"height":95,"mark":"line","encoding":{"x":{"field":"t","type":"quantitative","title":null,"scale":{"domain":[-0.2,1.5],"range":[0,134],"nice":false,"zero":false},"axis":{"values":[0.5,1,1.5]}},"y":{"field":"C4","type":"quantitative","title":null,"scale":{"domain":[-4,4],"reverse":true,"nice":false,"zero":false}},"strokeDash":{"field":"s","type":"nominal","title":null,"scale":{"domain":["SN","SF"],"range":[[2.5,3],[1,0]]}}}},
{"width":89,"height":95,"data":{"values":[]},"mark":"point","encoding":{}},
{"title":"T8","width":134,"height":95,"mark":"line","encoding":{"x":{"field":"t","type":"quantitative","title":null,"scale":{"domain":[-0.2,1.5],"range":[0,134],"nice":false,"zero":false},"axis":{"values":[0.5,1,1.5]}},"y":{"field":"T8","type":"quantitative","title":null,"scale":{"domain":[-4,4],"reverse":true,"nice":false,"zero":false}},"strokeDash":{"field":"s","type":"nominal","title":null,"scale":{"domain":["SN","SF"],"range":[[2.5,3],[1,0]]}}}},

{"width":78.9,"height":95,"data":{"values":[]},"mark":"point","encoding":{}},
{"title":{"text":"CP5","dx":31.4},"width":100.6,"height":95,"mark":"line","encoding":{"x":{"field":"t","type":"quantitative","title":null,"scale":{"domain":[-0.2,1.5],"range":[0,134],"nice":false,"zero":false},"axis":{"values":[0.5,1,1.5]}},"y":{"field":"CP5","type":"quantitative","title":null,"scale":{"domain":[-4,4],"reverse":true,"nice":false,"zero":false}},"strokeDash":{"field":"s","type":"nominal","title":null,"scale":{"domain":["SN","SF"],"range":[[2.5,3],[1,0]]}}}},
{"width":86.5,"height":95,"data":{"values":[]},"mark":"point","encoding":{}},
{"width":85.6,"height":95,"data":{"values":[]},"mark":"point","encoding":{}},
{"width":120.8,"height":95,"data":{"values":[]},"mark":"point","encoding":{}},
{"width":46.6,"height":95,"data":{"values":[]},"mark":"point","encoding":{}},
{"width":86,"height":95,"data":{"values":[]},"mark":"point","encoding":{}},
{"title":{"text":"CP6","offset":-42.5,"dx":43},"width":89,"height":95,"layer":[
 {"mark":"line","encoding":{"x":{"field":"t","type":"quantitative","title":null,"scale":{"domain":[-0.2,1.5],"range":[0,134],"nice":false,"zero":false},"axis":{"values":[0.5,1,1.5]}},"y":{"field":"CP6","type":"quantitative","title":null,"scale":{"domain":[-4,4],"reverse":true,"nice":false,"zero":false}},"strokeDash":{"field":"s","type":"nominal","title":null,"scale":{"domain":["SN","SF"],"range":[[2.5,3],[1,0]]}}}},
 {"data":{"values":[{}]},"mark":{"type":"rule","strokeWidth":1.8,"color":"black"},"encoding":{"x":{"datum":0.921},"y":{"datum":-4.09},"x2":{"datum":0.653},"y2":{"datum":-1.81}}},
 {"data":{"values":[{}]},"mark":{"type":"point","shape":"M0,-1L0.6,1L-0.6,1Z","size":256,"angle":217.9,"filled":true,"color":"black","opacity":1,"strokeWidth":0},"encoding":{"x":{"datum":0.653},"y":{"datum":-1.81}}},
 {"data":{"values":[{}]},"mark":{"type":"text","text":"NEGATIVITY","fontSize":20,"align":"center","baseline":"alphabetic","color":"black"},"encoding":{"x":{"datum":0.285},"y":{"datum":-4.85}}}
]},
{"width":134,"height":95,"data":{"values":[]},"mark":"point","encoding":{}},

{"title":{"text":"P7","dx":53.1},"width":78.9,"height":95,"mark":"line","encoding":{"x":{"field":"t","type":"quantitative","title":null,"scale":{"domain":[-0.2,1.5],"range":[0,134],"nice":false,"zero":false},"axis":{"values":[0.5,1,1.5]}},"y":{"field":"P7","type":"quantitative","title":null,"scale":{"domain":[-4,4],"reverse":true,"nice":false,"zero":false}},"strokeDash":{"field":"s","type":"nominal","title":null,"scale":{"domain":["SN","SF"],"range":[[2.5,3],[1,0]]}}}},
{"width":100.6,"height":95,"data":{"values":[]},"mark":"point","encoding":{}},
{"title":{"text":"P3","dx":45.5},"width":86.5,"height":95,"mark":"line","encoding":{"x":{"field":"t","type":"quantitative","title":null,"scale":{"domain":[-0.2,1.5],"range":[0,134],"nice":false,"zero":false},"axis":{"values":[0.5,1,1.5]}},"y":{"field":"P3","type":"quantitative","title":null,"scale":{"domain":[-4,4],"reverse":true,"nice":false,"zero":false}},"strokeDash":{"field":"s","type":"nominal","title":null,"scale":{"domain":["SN","SF"],"range":[[2.5,3],[1,0]]}}}},
{"width":85.6,"height":95,"data":{"values":[]},"mark":"point","encoding":{}},
{"title":{"text":"PZ","dx":11.2},"width":120.8,"height":95,"mark":"line","encoding":{"x":{"field":"t","type":"quantitative","title":null,"scale":{"domain":[-0.2,1.5],"range":[0,134],"nice":false,"zero":false},"axis":{"values":[0.5,1,1.5]}},"y":{"field":"PZ","type":"quantitative","title":null,"scale":{"domain":[-4,4],"reverse":true,"nice":false,"zero":false}},"strokeDash":{"field":"s","type":"nominal","title":null,"scale":{"domain":["SN","SF"],"range":[[2.5,3],[1,0]]}}}},
{"width":46.6,"height":95,"data":{"values":[]},"mark":"point","encoding":{}},
{"title":{"text":"P4","dx":46},"width":86,"height":95,"mark":"line","encoding":{"x":{"field":"t","type":"quantitative","title":null,"scale":{"domain":[-0.2,1.5],"range":[0,134],"nice":false,"zero":false},"axis":{"values":[0.5,1,1.5]}},"y":{"field":"P4","type":"quantitative","title":null,"scale":{"domain":[-4,4],"reverse":true,"nice":false,"zero":false}},"strokeDash":{"field":"s","type":"nominal","title":null,"scale":{"domain":["SN","SF"],"range":[[2.5,3],[1,0]]}}}},
{"width":89,"height":95,"data":{"values":[]},"mark":"point","encoding":{}},
{"title":"P8","width":134,"height":95,"mark":"line","encoding":{"x":{"field":"t","type":"quantitative","title":null,"scale":{"domain":[-0.2,1.5],"range":[0,134],"nice":false,"zero":false},"axis":{"values":[0.5,1,1.5]}},"y":{"field":"P8","type":"quantitative","title":null,"scale":{"domain":[-4,4],"reverse":true,"nice":false,"zero":false}},"strokeDash":{"field":"s","type":"nominal","title":null,"scale":{"domain":["SN","SF"],"range":[[2.5,3],[1,0]]}}}},

{"width":78.9,"height":95,"data":{"values":[]},"mark":"point","encoding":{}},
{"width":100.6,"height":95,"data":{"values":[]},"mark":"point","encoding":{}},
{"width":86.5,"height":95,"data":{"values":[]},"mark":"point","encoding":{}},
{"title":{"text":"O1","dx":46.4},"width":85.6,"height":95,"mark":"line","encoding":{"x":{"field":"t","type":"quantitative","title":null,"scale":{"domain":[-0.2,1.5],"range":[0,134],"nice":false,"zero":false},"axis":{"values":[0.5,1,1.5]}},"y":{"field":"O1","type":"quantitative","title":null,"scale":{"domain":[-4,4],"reverse":true,"nice":false,"zero":false}},"strokeDash":{"field":"s","type":"nominal","title":null,"scale":{"domain":["SN","SF"],"range":[[2.5,3],[1,0]]}}}},
{"width":120.8,"height":95,"data":{"values":[]},"mark":"point","encoding":{}},
{"title":{"text":"O2","dx":85.4},"width":46.6,"height":95,"mark":"line","encoding":{"x":{"field":"t","type":"quantitative","title":null,"scale":{"domain":[-0.2,1.5],"range":[0,134],"nice":false,"zero":false},"axis":{"values":[0.5,1,1.5]}},"y":{"field":"O2","type":"quantitative","title":null,"scale":{"domain":[-4,4],"reverse":true,"nice":false,"zero":false}},"strokeDash":{"field":"s","type":"nominal","title":null,"scale":{"domain":["SN","SF"],"range":[[2.5,3],[1,0]]}}}},
{"width":86,"height":95,"data":{"values":[]},"mark":"point","encoding":{}},
{"width":89,"height":95,"data":{"values":[]},"mark":"point","encoding":{}},
{"width":134,"height":95,"data":{"values":[]},"mark":"point","encoding":{}}
],
"config":{
 "font":"Liberation Sans",
 "view":{"stroke":null},
 "line":{"interpolate":"monotone","strokeWidth":2.4,"color":"black","strokeJoin":"round"},
 "axisX":{"offset":-47.5,"domainColor":"#666","domainWidth":1,"tickColor":"#666","tickSize":-4,"tickWidth":1,"labels":false,"grid":false},
 "axisY":{"offset":-15.7,"domainColor":"#666","domainWidth":1,"ticks":false,"labels":false,"grid":false},
 "title":{"anchor":"end","frame":"group","fontSize":18,"fontWeight":"normal","baseline":"alphabetic","offset":-17,"dx":-2,"color":"black"},
 "legend":{"orient":"none","legendX":-0.2,"legendY":38.5,"direction":"horizontal","symbolType":"stroke","symbolSize":1024,"symbolStrokeWidth":2.4,"symbolStrokeColor":"black","labelFontSize":18,"labelColor":"black","labelOffset":11,"columnPadding":55,"padding":0}
}
}
